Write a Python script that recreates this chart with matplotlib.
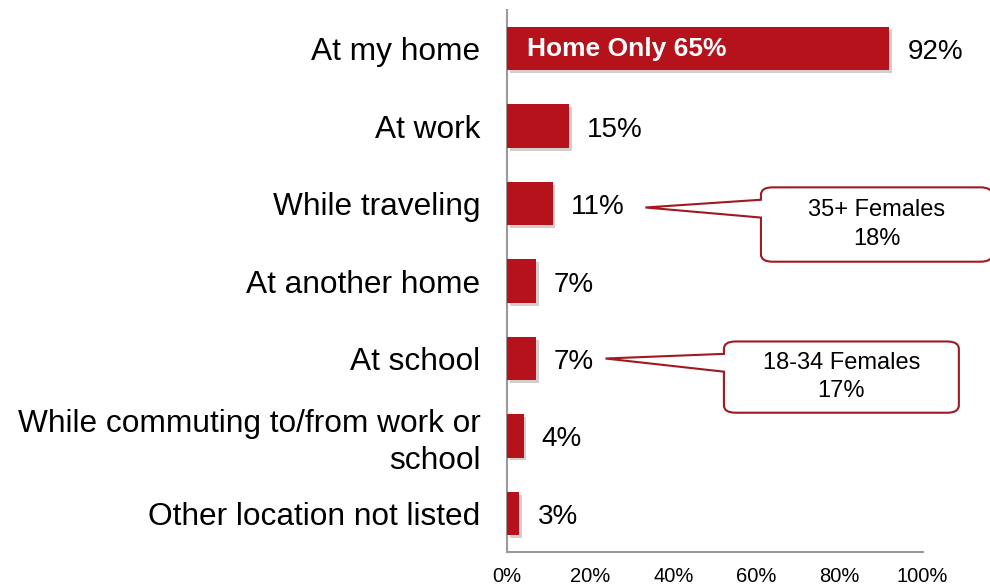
import matplotlib.pyplot as plt
import matplotlib.patheffects as pe
from matplotlib.patches import FancyBboxPatch, Polygon
import numpy as np

plt.rcParams['font.family'] = ['Liberation Sans', 'DejaVu Sans']

categories = ['At my home', 'At work', 'While traveling', 'At another home',
              'At school', 'While commuting to/from work or\nschool',
              'Other location not listed']
values = [92, 15, 11, 7, 7, 4, 3]
inner_label = 'Home Only 65%'
xticks = [0, 20, 40, 60, 80, 100]

# callouts: (bar index, box text)
callouts = [(2, '35+ Females\n18%'), (4, '18-34 Females\n17%')]

red = '#B5121B'
edge_red = '#A01820'

fig = plt.figure(figsize=(9.9, 5.88), dpi=100)
ax = fig.add_axes([0.512, 0.061, 0.42, 0.922])

y = np.arange(len(categories))
bars = ax.barh(y, values, height=0.56, color=red, zorder=3,
               path_effects=[pe.SimplePatchShadow(offset=(2, -2), alpha=0.2), pe.Normal()])
ax.set_ylim(len(categories) - 0.5, -0.5)
ax.set_xlim(0, 100)

ax.set_yticks(y)
ax.set_yticklabels(categories, fontsize=22.8, ha='right', linespacing=1.3)
ax.set_xticks(xticks)
ax.set_xticklabels([f'{t}%' for t in xticks], fontsize=14.5)
ax.tick_params(axis='y', length=0, pad=19)
ax.tick_params(axis='x', length=0, pad=11)

for s in ['top', 'right']:
    ax.spines[s].set_visible(False)
for s in ['left', 'bottom']:
    ax.spines[s].set_color('#9a9a9a')
    ax.spines[s].set_linewidth(1.5)

for yi, v in zip(y, values):
    ax.annotate(f'{v}%', (v, yi), xytext=(13, -2.5), textcoords='offset points',
                va='center', ha='left', fontsize=20)

ax.text(4.8, 0, inner_label, color='white', fontweight='bold', fontsize=19,
        va='center', ha='left', zorder=4)

# callout boxes (positions relative to the bar value labels)
box_geom = {2: (61.1, 116.7, 2.27, 0.96, 33.3, 1.95, 2.18, 2.05),
            4: (52.2, 108.7, 4.24, 0.92, 23.7, 3.94, 4.17, 4.0)}
for idx, txt in callouts:
    x0, x1, yc, h, tipx, b0, b1, tipy = box_geom[idx]
    box = FancyBboxPatch((x0, yc - h / 2), x1 - x0, h,
                         boxstyle='round,pad=0,rounding_size=2.8',
                         mutation_aspect=0.034,
                         fc='white', ec=edge_red, lw=1.5, clip_on=False, zorder=5)
    ax.add_patch(box)
    wedge = Polygon([(x0 + 0.6, b0), (tipx, tipy), (x0 + 0.6, b1)], closed=True,
                    fc='white', ec='none', clip_on=False, zorder=6)
    ax.add_patch(wedge)
    ax.plot([x0, tipx, x0], [b0, tipy, b1], color=edge_red, lw=1.5,
            clip_on=False, zorder=7, solid_joinstyle='miter')
    ax.text((x0 + x1) / 2, yc, txt, ha='center', va='center', fontsize=17,
            linespacing=1.4, zorder=8)

fig.savefig('out.png', dpi=100)
